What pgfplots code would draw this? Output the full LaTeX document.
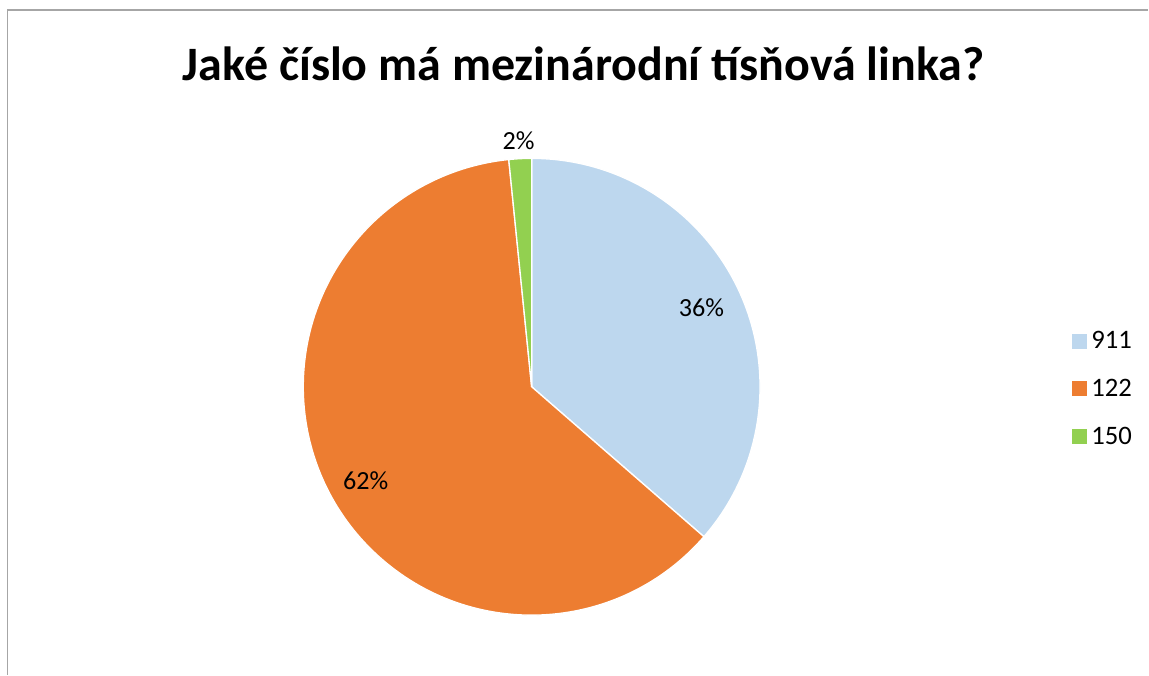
\documentclass[border=0pt]{standalone}
\usepackage{fontspec}
\setmainfont{Carlito}
\usepackage{pgfplots}
\usepackage{pgfplotstable}
\pgfplotsset{compat=1.18}

\definecolor{c911}{HTML}{BDD7EE}
\definecolor{c122}{HTML}{ED7D31}
\definecolor{c150}{HTML}{92D050}
\definecolor{frame}{HTML}{A6A6A6}

% shares in percent, clockwise from 12 o'clock
\pgfplotstableread{
label share col
911 36.4 c911
122 62.0 c122
150 1.6 c150
}\piedata

\begin{document}
\begin{tikzpicture}
\begin{axis}[
  x=0.75pt, y=0.75pt, disabledatascaling,
  xmin=0, xmax=1149, ymin=0, ymax=675,
  hide axis, clip=false, scale only axis,
  legend style={at={(axis cs:1068,286)}, anchor=west, draw=none, fill=none,
    font=\fontsize{20}{24}\selectfont, row sep=19.4pt, column sep=3pt,
    nodes={inner sep=1pt}},
  legend cell align=left,
  legend image code/.code={\fill[#1] (0pt,-5.25pt) rectangle (10.5pt,5.25pt);},
]
\path (axis cs:0,0) rectangle (axis cs:1149,675);
\draw[frame, line width=1.1pt] (axis cs:7.5,0) -- (axis cs:7.5,665) -- (axis cs:1149,665);

\xdef\startang{90}
\pgfplotsinvokeforeach{0,1,2}{
  \pgfplotstablegetelem{#1}{share}\of\piedata \let\share\pgfplotsretval
  \pgfplotstablegetelem{#1}{col}\of\piedata \let\col\pgfplotsretval
  \pgfmathsetmacro\endang{\startang-3.6*\share}
  \edef\tmp{\noexpand\fill[\col, draw=white, line width=1pt] (axis cs:532,288) -- ++(\startang:171.4pt)
    arc[start angle=\startang, end angle=\endang, radius=171.4pt] -- cycle;}
  \tmp
  \xdef\startang{\endang}
}

\node[font=\fontsize{19.6}{23}\selectfont] at (axis cs:702,367) {36\%};
\node[font=\fontsize{19.6}{23}\selectfont] at (axis cs:366,194) {62\%};
\node[font=\fontsize{19.6}{23}\selectfont] at (axis cs:519,534) {2\%};

\node[font=\bfseries\fontsize{36}{42}\selectfont] at (axis cs:584,611) {Jaké číslo má mezinárodní tísňová linka?};

\addlegendimage{c911}\addlegendentry{911}
\addlegendimage{c122}\addlegendentry{122}
\addlegendimage{c150}\addlegendentry{150}
\end{axis}
\end{tikzpicture}
\end{document}
